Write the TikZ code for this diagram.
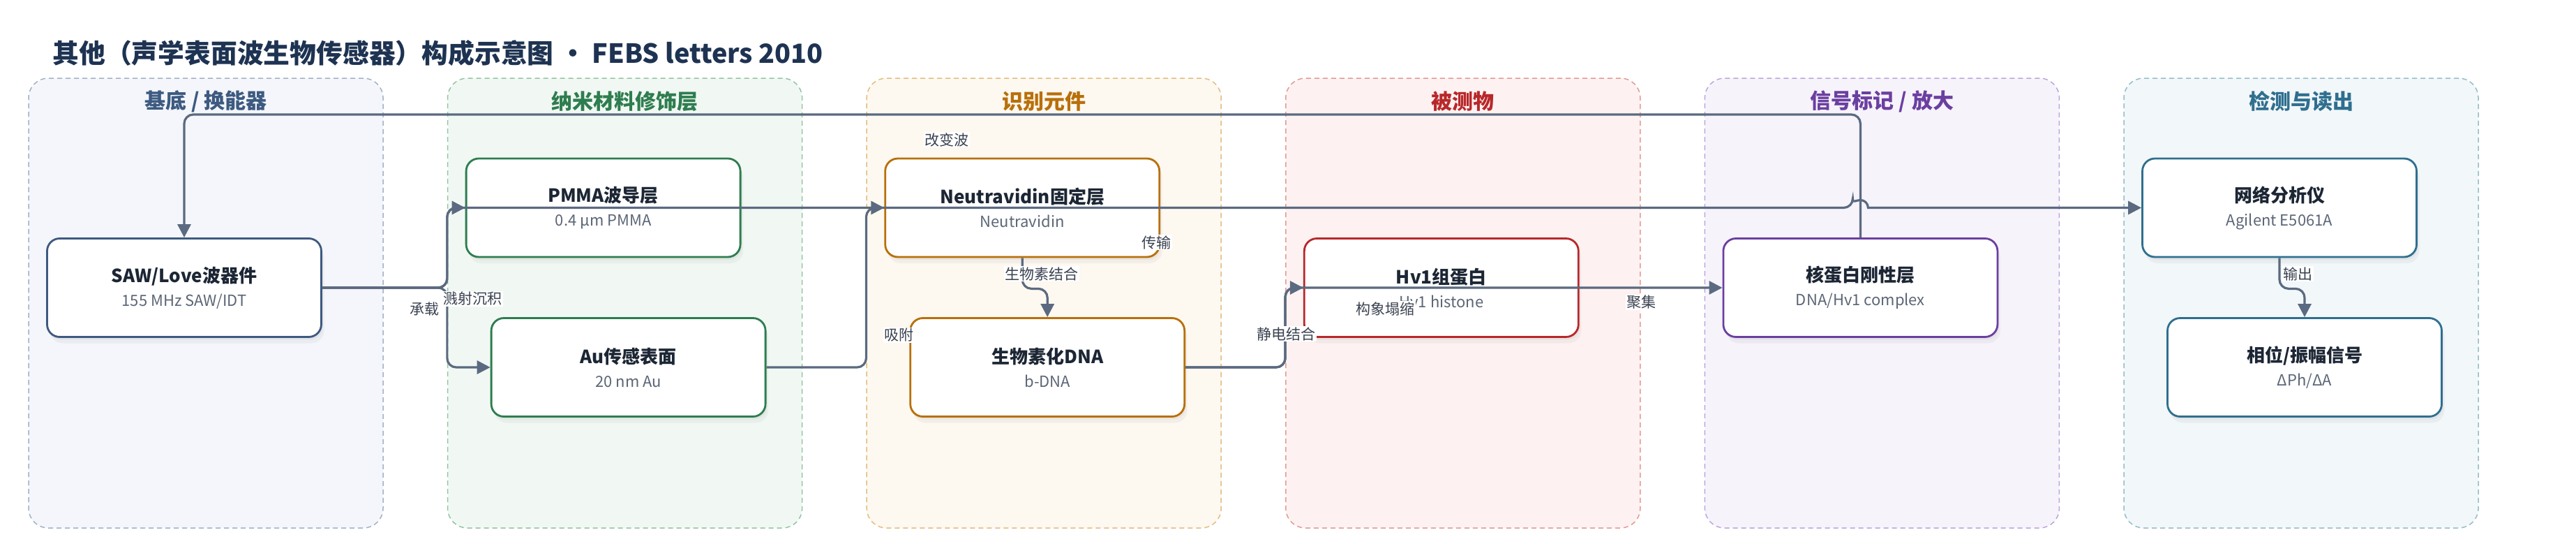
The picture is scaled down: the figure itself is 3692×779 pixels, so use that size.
\documentclass[tikz,border=0pt]{standalone}
\usepackage{fontspec}
\setmainfont{Noto Sans CJK SC}
\usepackage{xcolor}
\usepackage{tikz}
\usetikzlibrary{arrows.meta,shadows}
\definecolor{titleC}{RGB}{30, 51, 82}
\definecolor{edgeC}{RGB}{91, 106, 128}
\definecolor{nameC}{RGB}{28, 38, 52}
\definecolor{subC}{RGB}{92, 102, 118}
\definecolor{tagC}{RGB}{58, 66, 80}
\definecolor{dblue}{RGB}{61, 90, 128}
\definecolor{lblue}{RGB}{244, 246, 251}
\definecolor{bblue}{RGB}{163, 177, 198}
\definecolor{dgreen}{RGB}{46, 125, 79}
\definecolor{lgreen}{RGB}{241, 248, 243}
\definecolor{bgreen}{RGB}{148, 196, 166}
\definecolor{dorange}{RGB}{184, 112, 10}
\definecolor{lorange}{RGB}{253, 248, 240}
\definecolor{borange}{RGB}{226, 189, 128}
\definecolor{dred}{RGB}{184, 40, 42}
\definecolor{lred}{RGB}{253, 242, 241}
\definecolor{bred}{RGB}{226, 154, 150}
\definecolor{dpurple}{RGB}{107, 63, 160}
\definecolor{lpurple}{RGB}{246, 243, 251}
\definecolor{bpurple}{RGB}{188, 166, 220}
\definecolor{dteal}{RGB}{47, 111, 143}
\definecolor{lteal}{RGB}{242, 247, 249}
\definecolor{bteal}{RGB}{150, 188, 203}
\newcommand{\unittext}[2]{{\fontsize{26}{34}\selectfont\bfseries\color{nameC}#1}\\{\color{subC}#2}}
\tikzset{>={Triangle[length=19pt,width=19pt]}}
\tikzset{
  panel/.style 2 args={draw=#2, fill=#1, dash pattern=on 7pt off 5pt, line width=1.5pt,
    rounded corners=28pt, minimum width=508pt, minimum height=644pt, inner sep=0pt},
  head/.style={text=#1, font=\fontsize{30}{32}\selectfont\bfseries},
  unit/.style={draw=#1, line width=2.8pt, fill=white, rounded corners=18pt,
    minimum width=393pt, minimum height=141pt, inner sep=0pt, align=center,
    font=\fontsize{22}{34}\selectfont,
    drop shadow={opacity=0.08, shadow xshift=2pt, shadow yshift=-4pt},
    drop shadow={opacity=0.08, shadow xshift=4pt, shadow yshift=-9pt}},
  flow/.style={->, draw=edgeC, line width=3.2pt, rounded corners=13pt},
  tag/.style={fill=white, text=tagC, inner sep=1.5pt, font=\fontsize{21}{24}\selectfont}
}

\begin{document}
\begin{tikzpicture}[x=1pt, y=-1pt]
  \useasboundingbox (0,0) rectangle (3692,779);
  \node[anchor=west, text=titleC, font=\fontsize{37.8}{42}\selectfont\bfseries] (title) at (72,76)
    {其他（声学表面波生物传感器）构成示意图 · FEBS letters 2010};

  \node[panel={lblue}{bblue}] (p1) at (295,434) {};
  \node[panel={lgreen}{bgreen}] (p2) at (895.6,434) {};
  \node[panel={lorange}{borange}] (p3) at (1496.2,434) {};
  \node[panel={lred}{bred}] (p4) at (2096.8,434) {};
  \node[panel={lpurple}{bpurple}] (p5) at (2697.4,434) {};
  \node[panel={lteal}{bteal}] (p6) at (3298,434) {};
  \node[head=dblue] (h1) at ([yshift=-34pt]p1.north) {基底 / 换能器};
  \node[head=dgreen] (h2) at ([yshift=-34pt]p2.north) {纳米材料修饰层};
  \node[head=dorange] (h3) at ([yshift=-34pt]p3.north) {识别元件};
  \node[head=dred] (h4) at ([yshift=-34pt]p4.north) {被测物};
  \node[head=dpurple] (h5) at ([yshift=-34pt]p5.north) {信号标记 / 放大};
  \node[head=dteal] (h6) at ([yshift=-34pt]p6.north) {检测与读出};

  \node[unit=dblue] (saw) at (264,412) {\unittext{SAW/Love波器件}{155 MHz SAW/IDT}};
  \node[unit=dgreen] (pmma) at (864.6,297.5) {\unittext{PMMA波导层}{0.4 μm PMMA}};
  \node[unit=dgreen] (au) at (900.6,526) {\unittext{Au传感表面}{20 nm Au}};
  \node[unit=dorange] (neut) at (1465.2,297.5) {\unittext{Neutravidin固定层}{Neutravidin}};
  \node[unit=dorange] (dna) at (1501.2,526) {\unittext{生物素化DNA}{b-DNA}};
  \node[unit=dred] (hv1) at (2065.8,412) {\unittext{Hv1组蛋白}{Hv1 histone}};
  \node[unit=dpurple] (core) at (2666.4,412) {\unittext{核蛋白刚性层}{DNA/Hv1 complex}};
  \node[unit=dteal] (net) at (3267,297.5) {\unittext{网络分析仪}{Agilent E5061A}};
  \node[unit=dteal] (phase) at (3303,526) {\unittext{相位/振幅信号}{ΔPh/ΔA}};

  \coordinate (loop) at (0,164);
  \coordinate (hop) at (core.north |- net.west);
  \draw[flow] (saw.east) -| (p2.west |- pmma.west) -- (pmma.west);
  \draw[flow] (saw.east) -| (p2.west |- au.west) -- (au.west);
  \draw[flow] (saw.east) -| (p2.west |- pmma.west) -- ([xshift=-11pt]hop) [sharp corners]
    arc[start angle=180, end angle=0, radius=11pt] -- (net.west);
  \draw[flow] (au.east) -| (p3.west |- neut.west) -- (neut.west);
  \draw[flow] (neut.south) -- ++(0,44) -| (dna.north);
  \draw[flow] (dna.east) -| (p4.west |- hv1.west) -- (hv1.west);
  \draw[flow] (dna.east) -| (p4.west |- hv1.west) -- (core.west);
  \draw[flow] (core.north) |- (saw.north |- loop) -- (saw.north);
  \draw[flow] (net.south) -- ++(0,44) -| (phase.north);

  \node[tag] (carry) at (608,443) {承载};
  \node[tag] (sputter) at (677,428) {溅射沉积};
  \node[tag] (adsorb) at (1288,480) {吸附};
  \node[tag] (wave) at (1357,200) {改变波};
  \node[tag] (trans) at (1657,347) {传输};
  \node[tag] (biotin) at (1493,392) {生物素结合};
  \node[tag] (elec) at (1843,478) {静电结合};
  \node[tag] (collapse) at (1985,442) {构象塌缩};
  \node[tag] (gather) at (2352,433) {聚集};
  \node[tag] (output) at (3293,392) {输出};
\end{tikzpicture}
\end{document}
